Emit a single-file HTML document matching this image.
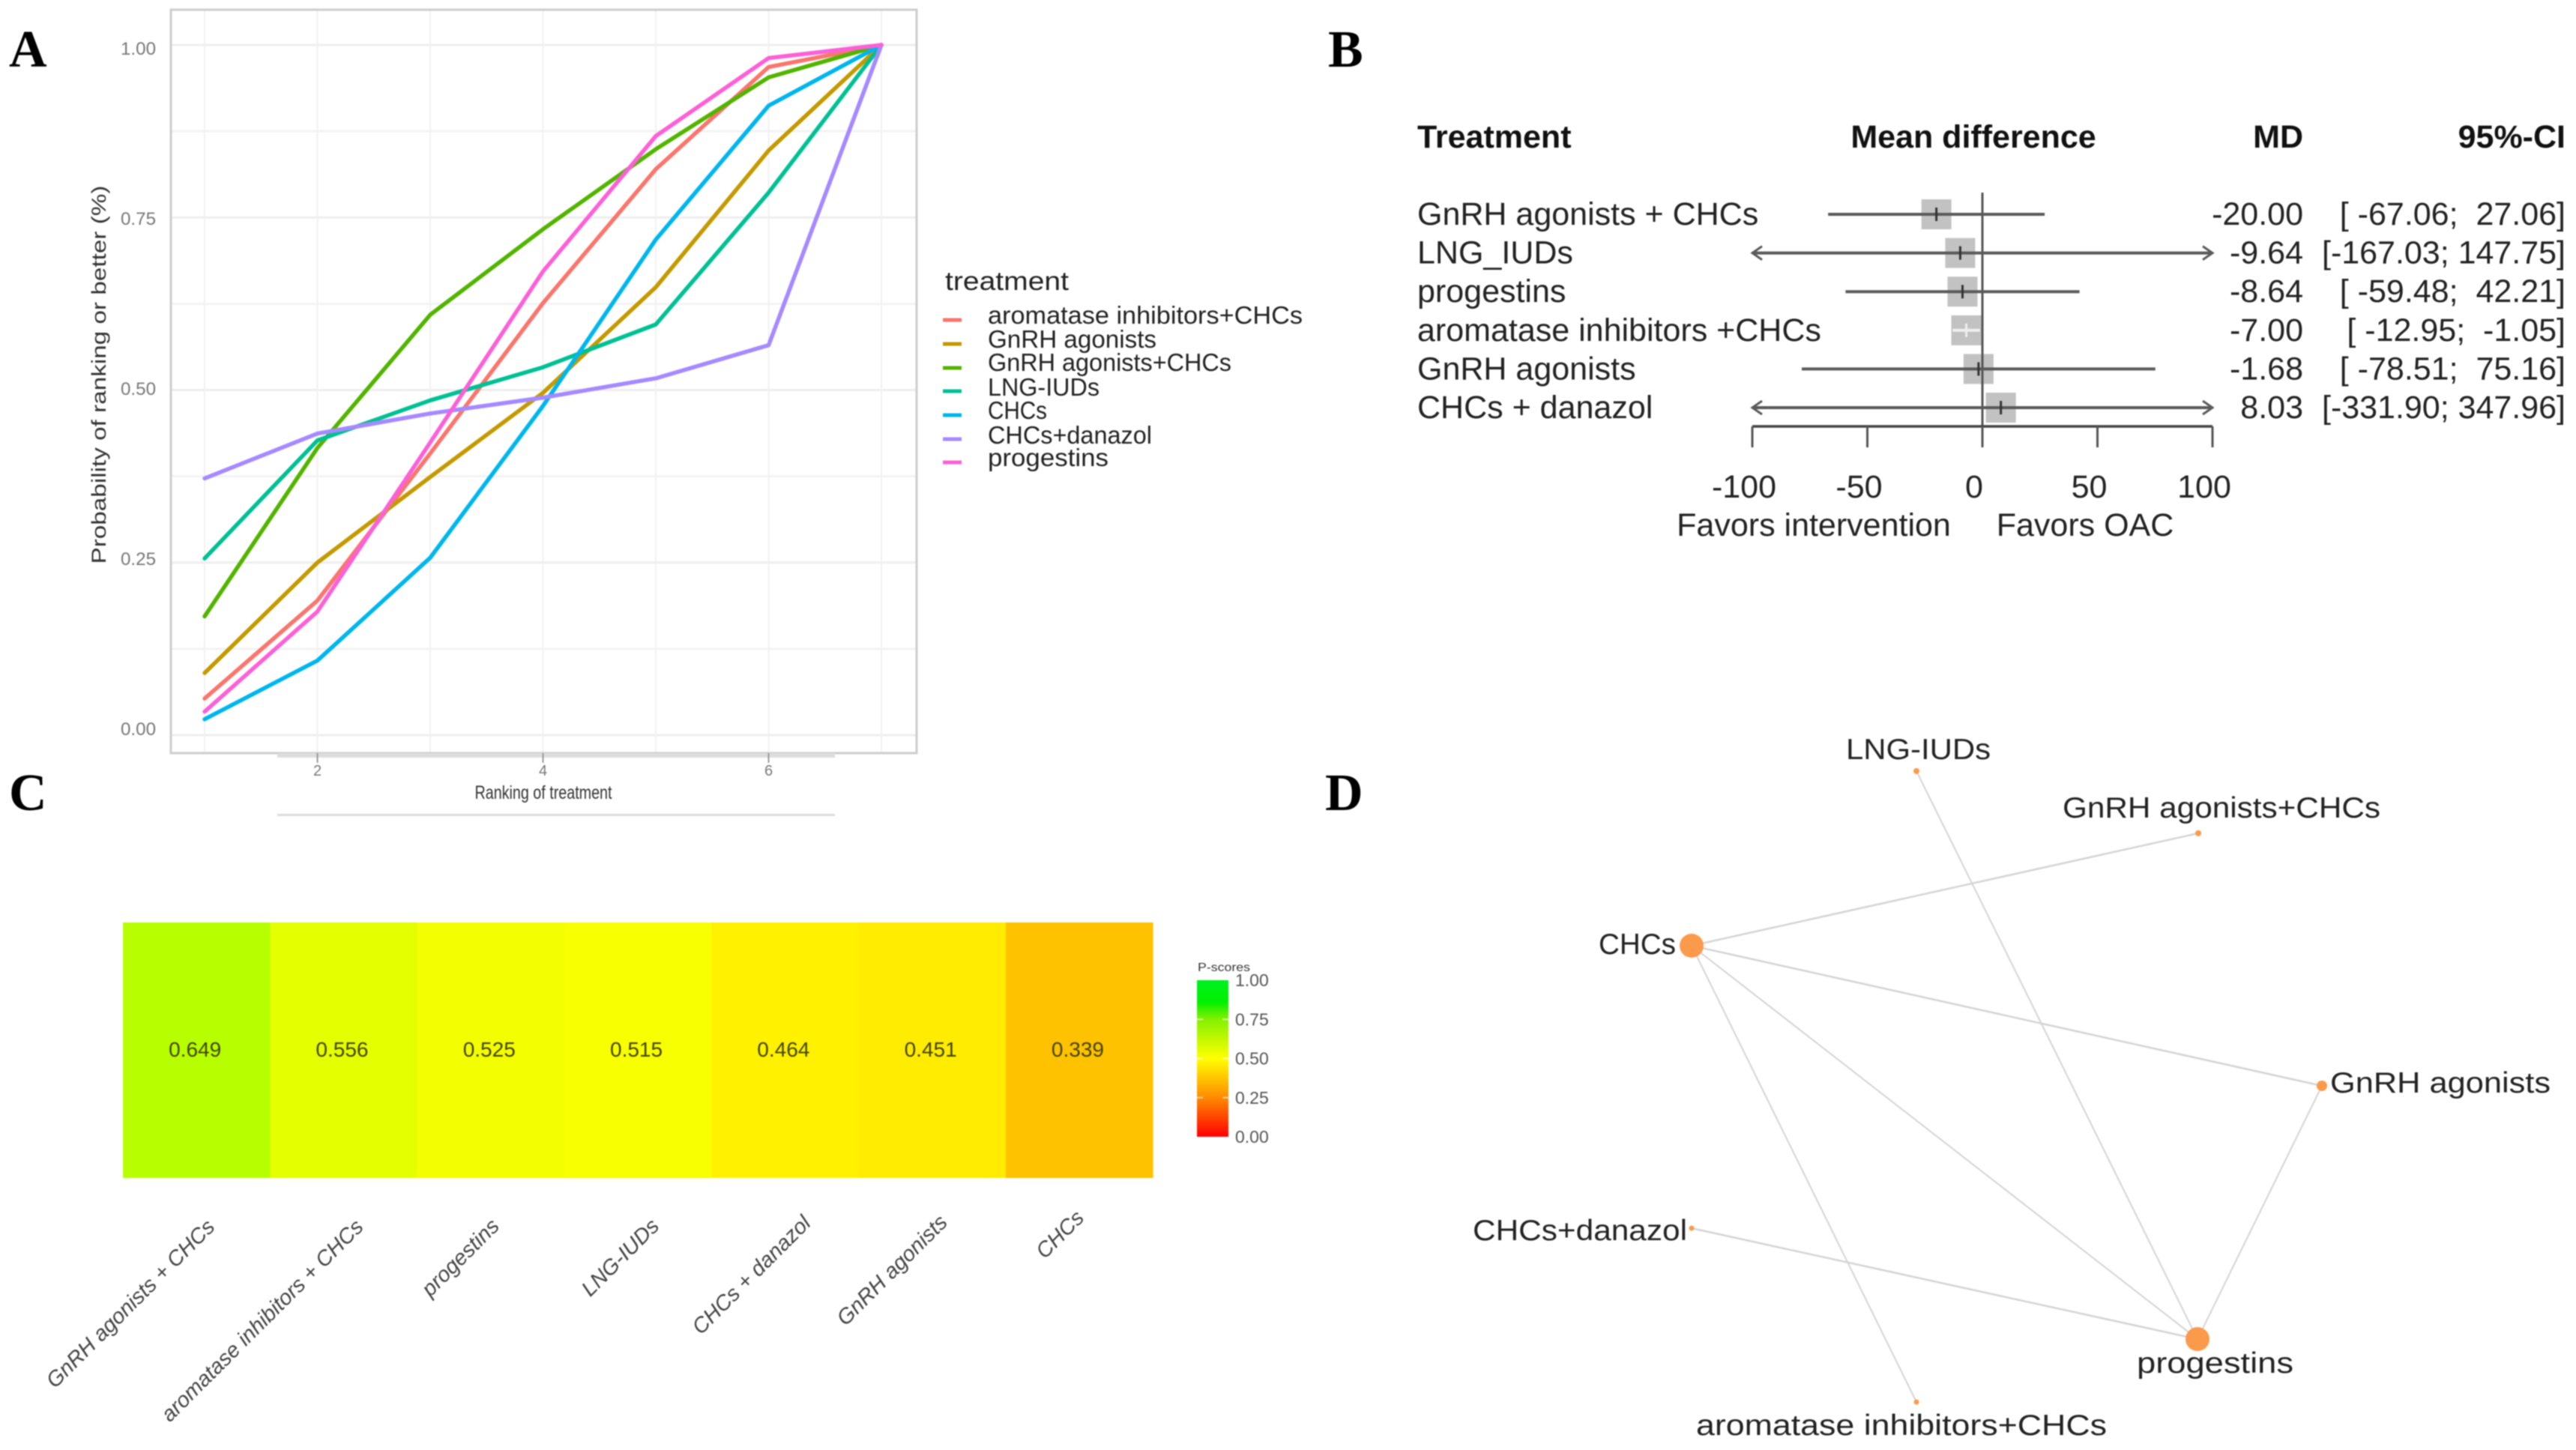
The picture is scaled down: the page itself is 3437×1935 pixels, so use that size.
<!DOCTYPE html>
<html lang="en">
<head>
<meta charset="utf-8">
<title>Network meta-analysis figure</title>
<style>
html,body{margin:0;padding:0;background:#fff;width:3437px;height:1935px;overflow:hidden}
svg{display:block;filter:blur(0.7px)}
text{font-family:"Liberation Sans",sans-serif;white-space:pre}
.panel-letter{font-family:"Liberation Serif",serif;font-weight:700;font-size:70px;fill:#000}
.net-edge{stroke:#d4d4d4;fill:none}
.net-node{fill:#fb9a4b}
.net-label{font-size:39px;fill:#222}
.legend-text{font-size:33px;fill:#222}
</style>
</head>
<body>
<svg id="figure" xmlns="http://www.w3.org/2000/svg" width="3437" height="1935" viewBox="0 0 3437 1935">
  <rect x="0" y="0" width="3437" height="1935" fill="#fff"/>

  <text class="panel-letter" x="12" y="89">A</text>
  <text class="panel-letter" x="1772" y="89">B</text>
  <text class="panel-letter" x="12" y="1081">C</text>
  <text class="panel-letter" x="1768" y="1081">D</text>

  <g id="panel-a"></g>
  <g>
    <text class="legend-text" x="1261" y="387" style="font-size:35px" textLength="165" lengthAdjust="spacingAndGlyphs">treatment</text>
    <line x1="1258" x2="1283" y1="427" y2="427" stroke="#F8766D" stroke-width="5"/>
    <text class="legend-text" x="1318" y="432" textLength="420" lengthAdjust="spacingAndGlyphs">aromatase inhibitors+CHCs</text>
    <line x1="1258" x2="1283" y1="459" y2="459" stroke="#C49A00" stroke-width="5"/>
    <text class="legend-text" x="1318" y="464" textLength="225" lengthAdjust="spacingAndGlyphs">GnRH agonists</text>
    <line x1="1258" x2="1283" y1="491" y2="491" stroke="#53B400" stroke-width="5"/>
    <text class="legend-text" x="1318" y="495" textLength="325" lengthAdjust="spacingAndGlyphs">GnRH agonists+CHCs</text>
    <line x1="1258" x2="1283" y1="522" y2="522" stroke="#00C094" stroke-width="5"/>
    <text class="legend-text" x="1318" y="528" textLength="149" lengthAdjust="spacingAndGlyphs">LNG-IUDs</text>
    <line x1="1258" x2="1283" y1="554" y2="554" stroke="#00B6EB" stroke-width="5"/>
    <text class="legend-text" x="1318" y="559" textLength="79" lengthAdjust="spacingAndGlyphs">CHCs</text>
    <line x1="1258" x2="1283" y1="586" y2="586" stroke="#A58AFF" stroke-width="5"/>
    <text class="legend-text" x="1318" y="592" textLength="219" lengthAdjust="spacingAndGlyphs">CHCs+danazol</text>
    <line x1="1258" x2="1283" y1="617" y2="617" stroke="#FB61D7" stroke-width="5"/>
    <text class="legend-text" x="1318" y="622" textLength="161" lengthAdjust="spacingAndGlyphs">progestins</text>
  </g>

  <g id="panel-b"></g>

  <defs>
    <linearGradient id="pscoreGradient" x1="0" y1="1" x2="0" y2="0">
      <stop offset="0" stop-color="#ff0000"/>
      <stop offset="0.25" stop-color="#ff8a00"/>
      <stop offset="0.5" stop-color="#ffff00"/>
      <stop offset="0.75" stop-color="#84f000"/>
      <stop offset="0.86" stop-color="#00f000"/>
      <stop offset="1" stop-color="#00f020"/>
    </linearGradient>
  </defs>
  <g id="panel-c"></g>

  <g>
    <line class="net-edge" x1="2257" y1="1262" x2="2933" y2="1112" stroke-width="2.5"/>
    <line class="net-edge" x1="2257" y1="1262" x2="3098" y2="1449" stroke-width="2.5"/>
    <line class="net-edge" x1="2257" y1="1262" x2="2557" y2="1871" stroke-width="2"/>
    <line class="net-edge" x1="2257" y1="1262" x2="2932" y2="1787" stroke-width="2"/>
    <line class="net-edge" x1="2557" y1="1029" x2="2932" y2="1787" stroke-width="2"/>
    <line class="net-edge" x1="3098" y1="1449" x2="2932" y2="1787" stroke-width="2"/>
    <line class="net-edge" x1="2257" y1="1639" x2="2932" y2="1787" stroke-width="2.5"/>
    <circle class="net-node" cx="2557" cy="1029" r="4"/>
    <circle class="net-node" cx="2933" cy="1112" r="4"/>
    <circle class="net-node" cx="2257" cy="1262" r="16"/>
    <circle class="net-node" cx="3098" cy="1449" r="7"/>
    <circle class="net-node" cx="2257" cy="1639" r="3.5"/>
    <circle class="net-node" cx="2932" cy="1787" r="16"/>
    <circle class="net-node" cx="2557" cy="1871" r="3.5"/>
    <text class="net-label" x="2463" y="1013" textLength="193" lengthAdjust="spacingAndGlyphs">LNG-IUDs</text>
    <text class="net-label" x="2752" y="1091" textLength="424" lengthAdjust="spacingAndGlyphs">GnRH agonists+CHCs</text>
    <text class="net-label" x="2133" y="1273" textLength="103" lengthAdjust="spacingAndGlyphs">CHCs</text>
    <text class="net-label" x="3109" y="1458" textLength="294" lengthAdjust="spacingAndGlyphs">GnRH agonists</text>
    <text class="net-label" x="1965" y="1655" textLength="286" lengthAdjust="spacingAndGlyphs">CHCs+danazol</text>
    <text class="net-label" x="2851" y="1832" textLength="209" lengthAdjust="spacingAndGlyphs">progestins</text>
    <text class="net-label" x="2263" y="1915" textLength="548" lengthAdjust="spacingAndGlyphs">aromatase inhibitors+CHCs</text>
  </g>
</svg>

<script>
/* ---------- Panel A data ---------- */
const ranks = [1, 2, 3, 4, 5, 6, 7];
const seriesNames = ["aromatase inhibitors+CHCs", "GnRH agonists", "GnRH agonists+CHCs", "LNG-IUDs", "CHCs", "CHCs+danazol", "progestins"];
const seriesColors = ["#F8766D", "#C49A00", "#53B400", "#00C094", "#00B6EB", "#A58AFF", "#FB61D7"];
const aromataseValues = [0.053, 0.195, 0.408, 0.626, 0.820, 0.968, 1];
const gnrhValues = [0.090, 0.250, 0.374, 0.496, 0.649, 0.847, 1];
const gnrhChcsValues = [0.172, 0.416, 0.609, 0.733, 0.849, 0.953, 1];
const lngValues = [0.256, 0.427, 0.485, 0.533, 0.595, 0.786, 1];
const chcsValues = [0.023, 0.108, 0.257, 0.477, 0.718, 0.912, 1];
const danazolValues = [0.372, 0.437, 0.466, 0.489, 0.517, 0.565, 1];
const progestinValues = [0.034, 0.179, 0.424, 0.672, 0.868, 0.981, 1];
const yTicks = [0, 0.25, 0.5, 0.75, 1];
const yMinorTicks = [0.125, 0.375, 0.625, 0.875];
const xTicks = [2, 4, 6];

/* ---------- Panel B data ---------- */
const forestLabels = ["GnRH agonists + CHCs", "LNG_IUDs", "progestins", "aromatase inhibitors +CHCs", "GnRH agonists", "CHCs + danazol"];
const forestMD = [-20.00, -9.64, -8.64, -7.00, -1.68, 8.03];
const forestLower = [-67.06, -167.03, -59.48, -12.95, -78.51, -331.90];
const forestUpper = [27.06, 147.75, 42.21, -1.05, 75.16, 347.96];
const forestTicks = [-100, -50, 0, 50, 100];

/* ---------- Panel C data ---------- */
const heatLabels = ["GnRH agonists + CHCs", "aromatase inhibitors + CHCs", "progestins", "LNG-IUDs", "CHCs + danazol", "GnRH agonists", "CHCs"];
const heatValues = [0.649, 0.556, 0.525, 0.515, 0.464, 0.451, 0.339];
const pScoreTicks = [0, 0.25, 0.5, 0.75, 1];

const SVGNS = "http://www.w3.org/2000/svg";
function add(parent, tag, attrs, txt) {
  const el = document.createElementNS(SVGNS, tag);
  for (const k in attrs) el.setAttribute(k, attrs[k]);
  if (txt !== undefined) el.textContent = txt;
  parent.appendChild(el);
  return el;
}
function slug(s) { return s.toLowerCase().replace(/[^a-z0-9]+/g, "-").replace(/^-|-$/g, ""); }

/* ---------- Panel A ---------- */
(function () {
  const g = document.getElementById("panel-a");
  const xA = r => 273 + (r - 1) * 150.5;
  const yA = v => 981 - v * 921;
  const yLabel = v => 971 - v * 908;
  const L = 228, R = 1223, T = 13, B = 1005;

  yMinorTicks.forEach(v => {
    const l = add(g, "line", { x1: L, x2: R, y1: yA(v), y2: yA(v), stroke: "#f3f3f3", "stroke-width": 3 });
    
    
  });
  yTicks.forEach(v => {
    const l = add(g, "line", { x1: L, x2: R, y1: yA(v), y2: yA(v), stroke: "#eeeeee", "stroke-width": 3 });
    
    
  });
  ranks.forEach(r => {
    const l = add(g, "line", { x1: xA(r), x2: xA(r), y1: T, y2: B, stroke: "#f1f1f1", "stroke-width": 2 });
    
    
  });

  const frame = add(g, "rect", { x: L, y: T, width: R - L, height: B - T, fill: "none", stroke: "#cdcdcd", "stroke-width": 3 });
  
  

  const axisBar = add(g, "rect", { x: 370, y: 1005, width: 744, height: 6, fill: "#dddddd" });
  
  
  const axisFoot = add(g, "rect", { x: 370, y: 1086, width: 744, height: 3, fill: "#dcdcdc" });
  
  

  const allSeries = [aromataseValues, gnrhValues, gnrhChcsValues, lngValues, chcsValues, danazolValues, progestinValues];
  allSeries.forEach((vals, i) => {
    const pts = vals.map((v, j) => xA(ranks[j]) + "," + yA(v)).join(" ");
    const line = add(g, "polyline", { points: pts, fill: "none", stroke: seriesColors[i], "stroke-width": 5.5, "stroke-linejoin": "round", "stroke-linecap": "round" });
    
    
  });

  yTicks.forEach(v => {
    const t = add(g, "text", { x: 208, y: yLabel(v) + 10, "text-anchor": "end", "font-size": 24, fill: "#777", textLength: 47, lengthAdjust: "spacingAndGlyphs" }, v.toFixed(2));
    
    
  });
  xTicks.forEach(r => {
    const tk = add(g, "line", { x1: xA(r), x2: xA(r), y1: 1005, y2: 1018, stroke: "#999", "stroke-width": 2 });
    
    
    const t = add(g, "text", { x: xA(r), y: 1035, "text-anchor": "middle", "font-size": 20, fill: "#777" }, String(r));
    
    
  });

  const xt = add(g, "text", { x: 725, y: 1066, "text-anchor": "middle", "font-size": 25, fill: "#333", textLength: 183, lengthAdjust: "spacingAndGlyphs" }, "Ranking of treatment");
  
  
  const yt = add(g, "text", { x: 0, y: 0, "text-anchor": "middle", "font-size": 27, fill: "#333", textLength: 505, lengthAdjust: "spacingAndGlyphs", transform: "translate(141 500) rotate(-90)" }, "Probability of ranking or better (%)");
  
  
})();

/* ---------- Panel B ---------- */
(function () {
  const g = document.getElementById("panel-b");
  const xB = v => 2645 + v * 3.07;
  const rowY = i => 286 + i * 51.6;
  const xMin = xB(-100), xMax = xB(100);
  const FS = 43;
  const lineColor = "#5a5a5a";

  const headers = [["Treatment", 1891, "start", "header-treatment"], ["Mean difference", 2633, "middle", "header-mean-difference"], ["MD", 3073, "end", "header-md"], ["95%-CI", 3423, "end", "header-ci"]];
  headers.forEach(h => {
    const t = add(g, "text", { x: h[1], y: 197, "text-anchor": h[2], "font-size": FS, "font-weight": 700, fill: "#111" }, h[0]);
    
    
  });

  forestLabels.forEach((lab, i) => {
    const y = rowY(i);
    const sq = add(g, "rect", { x: xB(forestMD[i]) - 20, y: y - 20, width: 40, height: 40, fill: "#c2c2c2" });
    
    
  });

  const refLine = add(g, "line", { x1: xB(0), x2: xB(0), y1: 257, y2: 597, stroke: "#555", "stroke-width": 3 });
  
  

  forestLabels.forEach((lab, i) => {
    const y = rowY(i);
    const lo = forestLower[i], up = forestUpper[i];
    const narrow = (xB(up) - xB(lo)) < 40;
    const col = narrow ? "#eeeeee" : lineColor;
    const x1 = Math.max(xB(lo), xMin), x2 = Math.min(xB(up), xMax);
    const ci = add(g, "line", { x1: x1, x2: x2, y1: y, y2: y, stroke: col, "stroke-width": 4 });
    
    
    if (xB(lo) < xMin) {
      const a = add(g, "polyline", { points: (xMin + 13) + "," + (y - 9) + " " + xMin + "," + y + " " + (xMin + 13) + "," + (y + 9), fill: "none", stroke: lineColor, "stroke-width": 3 });
      
      
    }
    if (xB(up) > xMax) {
      const a = add(g, "polyline", { points: (xMax - 13) + "," + (y - 9) + " " + xMax + "," + y + " " + (xMax - 13) + "," + (y + 9), fill: "none", stroke: lineColor, "stroke-width": 3 });
      
      
    }
    const m = add(g, "line", { x1: xB(forestMD[i]), x2: xB(forestMD[i]), y1: y - 9, y2: y + 9, stroke: narrow ? "#eeeeee" : "#333", "stroke-width": 3 });
    
    

    const t1 = add(g, "text", { x: 1891, y: y + 14, "font-size": FS, fill: "#222" }, lab);
    
    
    const t2 = add(g, "text", { x: 3073, y: y + 14, "text-anchor": "end", "font-size": FS, fill: "#222" }, forestMD[i].toFixed(2));
    
    

    const loStr = lo.toFixed(2), upStr = up.toFixed(2);
    const wide = loStr.length >= 7;
    const ciStr = wide ? "[" + loStr + "; " + upStr + "]" : "[ " + loStr + ";  " + upStr + "]";
    const t3 = add(g, "text", { x: 3423, y: y + 14, "text-anchor": "end", "font-size": FS, fill: "#222" }, ciStr);
    if (wide) {
      t3.setAttribute("textLength", "325");
      t3.setAttribute("lengthAdjust", "spacingAndGlyphs");
    }
    
    
  });

  const axis = add(g, "line", { x1: xMin, x2: xMax, y1: 569, y2: 569, stroke: "#444", "stroke-width": 3.5 });
  
  
  forestTicks.forEach(v => {
    const tk = add(g, "line", { x1: xB(v), x2: xB(v), y1: 569, y2: 597, stroke: "#555", "stroke-width": 3 });
    
    
    const t = add(g, "text", { x: xB(v) - 11, y: 664, "text-anchor": "middle", "font-size": FS, fill: "#222" }, String(v));
    
    
  });
  const f1 = add(g, "text", { x: 2420, y: 715, "text-anchor": "middle", "font-size": FS, fill: "#222" }, "Favors intervention");
  
  
  const f2 = add(g, "text", { x: 2782, y: 715, "text-anchor": "middle", "font-size": FS, fill: "#222" }, "Favors OAC");
  
  
})();

/* ---------- Panel C ---------- */
(function () {
  const g = document.getElementById("panel-c");
  const L = 164, W = 196.3, T = 1231, H = 341;
  const xC = i => L + i * W;
  const colorOf = v => {
    const r = v >= 0.5 ? 255 - 480 * (v - 0.5) : 255;
    const gr = v >= 0.5 ? 255 : 255 - 380 * (0.5 - v);
    return "rgb(" + Math.round(Math.max(0, r)) + "," + Math.round(Math.max(0, gr)) + ",0)";
  };
  const labelNudgeX = [26, 28, 13, 30, 36, 22, 8];
  const labelNudgeY = [3, 3, 2, 2, -2, -3, -9];
  heatValues.forEach((v, i) => {
    const c = add(g, "rect", { x: xC(i), y: T, width: W + 0.5, height: H, fill: colorOf(v) });
    
    
  });
  heatValues.forEach((v, i) => {
    const t = add(g, "text", { x: xC(i) + W / 2 - 2, y: 1410, "text-anchor": "middle", "font-size": 28, fill: "#444400" }, v.toFixed(3));
    
    
    const ax = xC(i) + W / 2 + labelNudgeX[i], ay = 1636 + labelNudgeY[i];
    const l = add(g, "text", { x: 0, y: 0, "text-anchor": "end", "font-size": 28.7, "font-style": "italic", fill: "#444", transform: "translate(" + ax + " " + ay + ") rotate(-45)" }, heatLabels[i]);
    
    
  });

  const yP = v => 1517 - v * 209;
  const bar = add(g, "rect", { x: 1597, y: yP(1), width: 42, height: 209, fill: "url(#pscoreGradient)" });
  
  
  pScoreTicks.forEach(v => {
    if (v > 0 && v < 1) {
      const a = add(g, "line", { x1: 1597, x2: 1605, y1: yP(v), y2: yP(v), stroke: "#fff", "stroke-width": 2, opacity: 0.6 });
      
      
      const b = add(g, "line", { x1: 1631, x2: 1639, y1: yP(v), y2: yP(v), stroke: "#fff", "stroke-width": 2, opacity: 0.6 });
      
      
    }
    const t = add(g, "text", { x: 1648, y: yP(v) + 8, "font-size": 23, fill: "#555" }, v.toFixed(2));
    
    
  });
  const title = add(g, "text", { x: 1598, y: 1296, "font-size": 16, fill: "#333", textLength: 70, lengthAdjust: "spacingAndGlyphs" }, "P-scores");
  
  
})();
</script>
</body>
</html>
